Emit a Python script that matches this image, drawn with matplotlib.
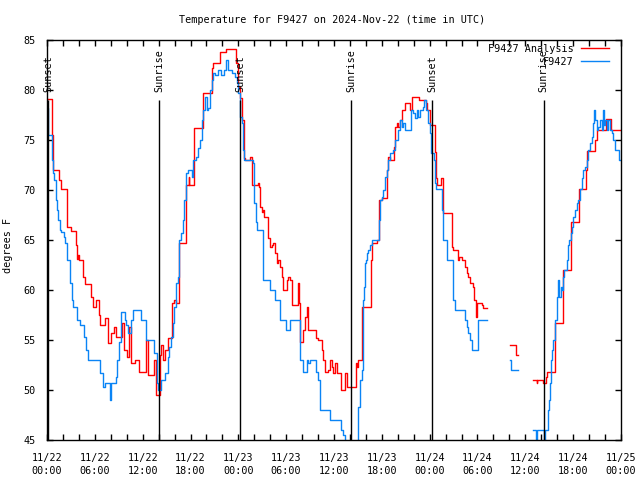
import numpy as np
import matplotlib
matplotlib.use("Agg")
import matplotlib.pyplot as plt
from matplotlib.ticker import MultipleLocator, FuncFormatter
from datetime import datetime, timedelta

nan = np.nan
start = datetime(2024, 11, 22)

# hours since 11/22 00:00 UTC
analysis_hours = [
    0.04, 0.59, 0.69, 1.53, 1.71, 2.53, 2.99, 3.58, 3.71, 3.87, 3.99, 4.53, 4.74,
    5.58, 5.74, 6.20, 6.53, 6.70, 7.32, 7.65, 8.07, 8.36, 8.61, 9.36, 9.61, 9.98,
    10.27, 10.57, 10.98, 11.60, 12.44, 12.64, 13.48, 13.69, 14.16, 14.35, 14.60,
    14.85, 15.14, 15.68, 15.97, 16.18, 16.60, 17.43, 17.76, 17.84, 18.38, 19.61,
    20.66, 20.76, 21.70, 22.45, 23.71, 24.00, 24.21, 24.42, 24.71, 24.84, 25.46,
    25.68, 26.51, 26.63, 26.72, 26.93, 27.13, 27.22, 27.76, 27.97, 28.19, 28.39,
    28.60, 28.81, 29.01, 29.23, 29.44, 29.64, 30.07, 30.27, 30.48, 30.70, 31.52,
    31.65, 31.74, 32.15, 32.36, 32.58, 32.78, 33.74, 33.99, 34.46, 34.66, 34.87,
    35.29, 35.50, 35.71, 35.91, 36.13, 36.34, 36.84, 37.38, 37.59, 37.67, 38.76,
    38.92, 39.05, 39.48, 40.61, 40.73, 41.36, 41.68, 41.99, 42.61, 42.81, 43.03,
    43.53, 43.65, 43.87, 44.07, 44.28, 44.49, 44.91, 45.53, 45.75, 46.70, 47.54,
    47.70, 48.04, 48.67, 48.80, 48.88, 49.42, 49.71, 50.77, 50.97, 51.59, 51.72,
    52.10, 52.43, 52.65, 52.85, 53.06, 53.48, 53.60, 53.81, 53.98, 54.53, 54.65,
    55.15, 58.08, 58.79, 59.12, 61.00, 61.42, 61.50, 62.26, 62.59, 62.76, 63.72,
    64.69, 64.76, 65.69, 66.77, 67.61, 67.77, 68.74, 68.95, 70.12, 70.71, 72.00,
]
analysis_temp = [
    79.1, 75.5, 72, 71, 70.1, 66.3, 65.9, 64.5, 63.1, 63.5, 63, 61.3, 60.6,
    59.3, 58.3, 59, 57.5, 56.5, 57.2, 54.7, 55.7, 56.3, 55.3, 56.7, 54, 53.3,
    56.3, 52.7, 53, 51.8, 55, 51.5, 53, 49.5, 53.5, 54.5, 53,
    54, 55.2, 58.7, 59, 58.7, 64.7, 70.5, 71.3, 70.5, 76.2, 79.7,
    82.2, 82.7, 83.8, 84.1, 82.7, 80.3, 79.2, 77, 73.2, 73, 73.3,
    70.5, 70.7, 70.3, 68.3, 67.8, 68, 67.3, 65.2, 64.3, 64.5, 64.7,
    63.7, 62.7, 63, 62.3, 61.3, 60, 61, 61.3, 61, 58.5, 60.7,
    58.7, 54.8, 56, 57.3, 58.3, 56, 55.2, 55, 54, 53, 51.8,
    52, 53, 52.3, 51.7, 52.7, 51.7, 50, 51.7, 51, 50.3, 52.7,
    52.3, 53, 58.3, 63, 64.7, 65, 69, 69.2, 72, 73.3, 73,
    74.3, 76.3, 76.7, 76.3, 77, 78, 78.7, 78, 79.3, 79, 78.7,
    78, 76.5, 73.8, 71.2, 70.5, 71.2, 67.7, 64.3, 64, 63, 63.3,
    63, 62.3, 61.7, 61.3, 60.7, 60.3, 59, 57.3, 58.7, 58.5, 58.2,
    nan, 54.5, 53.5, nan, 51, 50.7, 51, 50.7, 51.3, 51.8, 56.7,
    59.3, 62, 66.8, 70.1, 72, 73.9, 75, 76, 77.1, 76, 76,
]

obs_hours = [
    0.04, 0.16, 0.59, 0.71, 0.91, 1.09, 1.29, 1.41, 1.62, 1.71, 2.12, 2.25, 2.53,
    2.87, 3.08, 3.28, 3.71, 4.12, 4.65, 4.95, 5.15, 6.61, 7.03, 7.24, 7.86, 8.07,
    8.70, 8.82, 8.98, 9.32, 9.73, 9.95, 10.14, 10.57, 10.77, 11.82, 12.44, 13.48,
    13.76, 13.89, 14.31, 14.85, 15.14, 15.35, 15.56, 15.76, 15.97, 16.18, 16.38,
    16.60, 16.81, 17.01, 17.22, 17.44, 17.72, 18.15, 18.35, 18.69, 18.98, 19.19,
    19.41, 19.61, 19.82, 20.03, 20.23, 20.45, 20.66, 20.86, 21.07, 21.45, 21.83,
    22.20, 22.45, 22.74, 23.17, 23.58, 23.80, 24.00, 24.21, 24.42, 24.62, 24.75,
    25.88, 26.00, 26.18, 26.30, 27.13, 27.97, 28.60, 29.23, 29.98, 30.48, 31.74,
    32.15, 32.58, 32.78, 32.99, 33.71, 34.03, 34.24, 35.50, 36.88, 37.13, 37.38,
    39.05, 39.26, 39.48, 39.60, 39.68, 39.80, 39.89, 40.01, 40.18, 40.30, 40.52,
    40.73, 41.68, 41.77, 41.99, 42.19, 42.40, 42.61, 42.81, 43.03, 43.44, 43.65,
    44.07, 44.28, 44.49, 44.69, 44.91, 45.62, 45.95, 46.16, 46.37, 46.58, 46.79,
    47.20, 47.29, 47.54, 47.83, 48.04, 48.17, 48.54, 48.63, 48.67, 48.80, 49.51,
    49.71, 50.21, 50.97, 51.18, 52.22, 52.43, 52.65, 52.85, 53.06, 53.27, 54.10,
    55.15, 58.08, 58.20, 59.12, 61.00, 61.34, 61.42, 62.34, 62.47, 62.80, 62.97,
    63.10, 63.22, 63.30, 63.51, 63.72, 63.93, 64.14, 64.27, 64.43, 64.56, 64.69,
    64.85, 65.19, 65.31, 65.48, 65.69, 65.82, 66.02, 66.23, 66.44, 66.65, 66.86,
    67.07, 67.27, 67.49, 67.70, 67.90, 68.11, 68.32, 68.53, 68.65, 68.78, 68.95,
    69.16, 69.37, 69.58, 69.78, 69.91, 70.03, 70.21, 70.41, 70.62, 70.83, 71.04,
    71.25, 71.79, 72.00,
]
obs_temp = [
    78.2, 75.5, 73, 71.7, 71, 69, 68, 67, 66, 65.8, 65.3, 64.7, 63,
    60.7, 59, 58.3, 57, 56.5, 55.3, 54, 53, 51.7, 50.3, 50.7, 49, 50.7,
    51.3, 53, 54.8, 57.8, 57, 56.5, 55.7, 57, 58, 57, 55, 53.7,
    50.7, 50, 51, 51.7, 53.3, 54.3, 55.3, 56.7, 58.3, 60.7, 61.3,
    65, 65.7, 67, 69, 71.7, 72, 71.3, 73, 73.3, 74.2, 75,
    77, 78, 79.3, 78, 78.2, 80, 81, 81.7, 81.5, 82, 81.5,
    82, 83, 82, 81.7, 81.3, 80.7, 79.7, 77.3, 76.7, 74, 73,
    72.7, 68.7, 66.8, 66, 61, 60, 59, 57, 56, 57, 53,
    51.8, 53, 52.7, 53, 51.8, 51, 48, 47, 46, 45.5, 44,
    48.3, 51, 52, 53, 59, 60.3, 62.7, 63, 63.7, 64, 64.5,
    65, 67, 69, 69.3, 70, 71.3, 72, 73, 73.7, 74, 75,
    76, 77, 76.3, 76.7, 76, 78, 77.7, 77.2, 78, 77.3, 78,
    78.3, 79, 78, 76.7, 75.7, 73.7, 73, 72.3, 70.7, 70.1, 68,
    65, 63, 59, 58, 58, 57, 56.3, 55.7, 55, 54, 57,
    nan, 53, 52, nan, 46, 44, 46, 44, 46, 48, 49,
    50.7, 53, 54, 55, 57, 59.3, 61, 59.3, 60.3, 60, 61.3,
    62, 63, 64.5, 65, 65.7, 66.3, 67.3, 68, 68.7, 69, 70.1,
    71.2, 72, 72.3, 73, 74, 74.7, 75.3, 76.7, 78, 77, 76,
    76.3, 77, 76, 78, 76.5, 77, 76, 77, 76, 75.7, 75,
    74, 73, 73,
]

sunset_hours = [0.12, 24.2, 48.28]
sunrise_hours = [14.08, 38.12, 62.28]

plt.rcParams['font.family'] = ['DejaVu Sans Mono']
plt.rcParams['font.size'] = 7.3

fig = plt.figure(figsize=(6.4, 4.8), dpi=100)
ax = fig.add_axes([47 / 640, 40 / 480, 574 / 640, 400 / 480])

ax.plot(analysis_hours, analysis_temp, drawstyle='steps-post', color='#ff0000',
        linewidth=1.0, label='F9427 Analysis')
ax.plot(obs_hours, obs_temp, drawstyle='steps-post', color='#0a84f5',
        linewidth=1.0, label='F9427')

# sunrise / sunset markers
for h in sunset_hours:
    ax.vlines(h, 45, 79, color='black', linewidth=1.0)
    ax.text(h, 79.8, 'Sunset', rotation=90, ha='center', va='bottom')
for h in sunrise_hours:
    ax.vlines(h, 45, 79, color='black', linewidth=1.0)
    ax.text(h, 79.8, 'Sunrise', rotation=90, ha='center', va='bottom')

ax.set_xlim(0, 72)
ax.set_ylim(45, 85)

ax.xaxis.set_major_locator(MultipleLocator(6))
ax.xaxis.set_minor_locator(MultipleLocator(2))
ax.xaxis.set_major_formatter(FuncFormatter(
    lambda v, pos: (start + timedelta(hours=v)).strftime('%m/%d\n%H:%M')))
ax.yaxis.set_major_locator(MultipleLocator(5))

ax.tick_params(which='both', direction='in', top=True, right=True,
               length=4, width=1, color='black')
ax.tick_params(axis='x', pad=9)
ax.tick_params(axis='y', pad=8)
for lab in ax.get_xticklabels():
    lab.set_linespacing(1.5)
for s in ax.spines.values():
    s.set_linewidth(1.0)

fig.text(332.5 / 640, 1 - 20 / 480,
         'Temperature for F9427 on 2024-Nov-22 (time in UTC)',
         ha='center', va='center')
fig.text(8.5 / 640, 1 - 245 / 480, 'degrees F', rotation=90,
         ha='center', va='center')

ax.legend(loc='upper right', bbox_to_anchor=(0.979, 0.99), frameon=False,
          markerfirst=False, handlelength=2.8, handletextpad=0.7,
          borderpad=0, borderaxespad=0, labelspacing=0.25)

fig.savefig('out.png', dpi=100)
